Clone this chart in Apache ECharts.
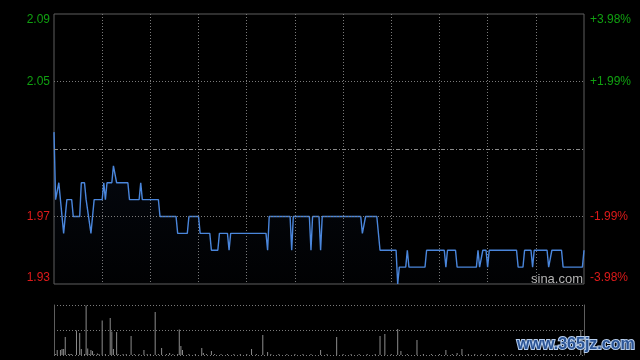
<!DOCTYPE html>
<html>
<head>
<meta charset="utf-8">
<script src="https://cdn.jsdelivr.net/npm/echarts@6/dist/echarts.min.js"></script>
<style>
html,body{margin:0;padding:0;background:#000;}
#chart{width:640px;height:360px;}
</style>
</head>
<body>
<div id="chart"></div>
<script>
// minute index (0..330) and price at each vertex of the intraday line
const lineMinutes = [0,1,2,3,4,6,8,11,12,16,17,19,20,21,23,24,25,30,31,32,33,36,37,38,39,46,47,53,54,55,65,66,76,77,83,84,90,91,97,98,102,103,108,109,110,132,133,134,147,148,149,159,160,161,165,166,167,191,192,193,194,201,203,213,214,215,219,220,221,231,232,243,244,245,250,251,263,264,265,266,267,269,270,271,288,289,292,293,297,298,299,307,308,309,310,316,317,329,330];
const linePrices  = [2.02,1.98,1.98,1.99,1.99,1.96,1.98,1.98,1.97,1.97,1.99,1.99,1.98,1.98,1.96,1.96,1.98,1.98,1.99,1.98,1.99,1.99,2.00,2.00,1.99,1.99,1.98,1.98,1.99,1.98,1.98,1.97,1.97,1.96,1.96,1.97,1.97,1.96,1.96,1.95,1.95,1.96,1.96,1.95,1.96,1.96,1.95,1.97,1.97,1.95,1.97,1.97,1.95,1.97,1.97,1.95,1.97,1.97,1.96,1.96,1.97,1.97,1.95,1.95,1.93,1.94,1.94,1.95,1.94,1.94,1.95,1.95,1.94,1.95,1.95,1.94,1.94,1.95,1.94,1.94,1.95,1.95,1.94,1.95,1.95,1.94,1.94,1.95,1.95,1.94,1.95,1.95,1.94,1.94,1.95,1.95,1.94,1.94,1.95];

// volume bars (percent of panel height) at minute index
const volMinutes = [1,2,4,5,6,7,9,10,11,14,16,17,19,20,21,22,23,24,25,27,28,30,32,35,36,37,39,40,43,45,48,50,53,56,58,60,63,65,67,70,72,74,77,78,79,80,84,88,92,93,95,98,100,104,108,112,116,120,123,126,130,133,135,140,145,150,155,160,166,170,176,180,185,190,195,200,203,206,210,214,216,220,226,230,235,240,244,248,251,254,258,262,266,270,275,280,285,290,295,300,305,310,315,320,328];
const volValues  = [2,10,10,12,12,36,2,2,2,49,44,12,2,99,13,2,10,8,2,3,2,69,2,74,47,12,46,2,2,2,38,2,2,10,2,2,86,2,14,2,4,2,2,51,18,10,2,2,14,4,2,8,2,2,2,2,2,2,12,2,40,6,2,2,2,2,2,2,10,2,36,2,2,2,2,2,38,42,2,52,8,2,30,2,2,2,10,2,4,12,2,2,2,2,2,2,2,2,2,2,2,2,2,2,50];

// axis tick labels
const priceTicks = [1.93, 1.97, 2.01, 2.05, 2.09];
const leftLabels = ['1.93', '1.97', '', '2.05', '2.09'];
const rightLabels = ['-3.98%', '-1.99%', '', '+1.99%', '+3.98%'];
const prevClose = 2.01;

const GREEN = '#10a010', RED = '#dd1a1a', GRID = '#7a7a7a', BORDER = '#5e5e5e';
function tickIndex(v){ let best=0; for(let i=0;i<priceTicks.length;i++){ if(Math.abs(priceTicks[i]-v)<Math.abs(priceTicks[best]-v)) best=i; } return best; }

const chart = echarts.init(document.getElementById('chart'), null, {renderer:'canvas'});
const lineData = lineMinutes.map((m,i)=>[m, linePrices[i]]);
const volData = volMinutes.map((m,i)=>[m, volValues[i]]);

const labelBase = {fontFamily:'Liberation Sans, Arial, sans-serif', fontSize:12};

chart.setOption({
  backgroundColor:'#000',
  animation:false,
  grid:[
    {left:54, top:14, width:530, height:270, show:true, borderColor:BORDER, borderWidth:1, backgroundColor:'transparent'},
    {left:54, top:305, width:530, height:50}
  ],
  xAxis:[
    {gridIndex:0, type:'value', min:0, max:330, interval:30,
     axisLine:{show:false}, axisTick:{show:false}, axisLabel:{show:false},
     splitLine:{show:true, showMinLine:false, showMaxLine:false, lineStyle:{color:GRID, type:[1,2], width:1}}},
    {gridIndex:1, type:'value', min:0, max:330,
     axisLine:{show:false}, axisTick:{show:false}, axisLabel:{show:false}, splitLine:{show:false}}
  ],
  yAxis:[
    {gridIndex:0, type:'value', position:'left', min:1.93, max:2.09, interval:0.04,
     axisLine:{show:false}, axisTick:{show:false}, splitLine:{show:false},
     axisLabel:Object.assign({}, labelBase, {margin:4,
       verticalAlignMinLabel:'bottom', verticalAlignMaxLabel:'top',
       formatter:v=>leftLabels[tickIndex(v)],
       color:v=> v>prevClose ? GREEN : RED})},
    {gridIndex:0, type:'value', position:'right', min:1.93, max:2.09, interval:0.04,
     axisLine:{show:false}, axisTick:{show:false}, splitLine:{show:false},
     axisLabel:Object.assign({}, labelBase, {margin:6,
       verticalAlignMinLabel:'bottom', verticalAlignMaxLabel:'top',
       formatter:v=>rightLabels[tickIndex(v)],
       color:v=> v>prevClose ? GREEN : RED})},
    {gridIndex:1, type:'value', position:'left', min:0, max:100, interval:50,
     axisLine:{show:true, lineStyle:{color:BORDER, width:1}}, axisTick:{show:false}, axisLabel:{show:false},
     splitLine:{show:true, lineStyle:{color:GRID, type:[1,2], width:1}}},
    {gridIndex:1, type:'value', position:'right', min:0, max:100, interval:50,
     axisLine:{show:true, lineStyle:{color:BORDER, width:1}}, axisTick:{show:false}, axisLabel:{show:false},
     splitLine:{show:false}}
  ],
  series:[
    {type:'line', xAxisIndex:0, yAxisIndex:0, data:lineData, showSymbol:false, symbol:'none',
     lineStyle:{color:'#4a86dc', width:1.4},
     areaStyle:{color:new echarts.graphic.LinearGradient(0,0,0,1,[
       {offset:0, color:'rgba(50,90,170,0.14)'},{offset:1, color:'rgba(50,90,170,0.02)'}])},
     markLine:{silent:true, symbol:'none', label:{show:false},
       data:[
         {yAxis:2.05, lineStyle:{color:GRID, type:[1,2], width:1}},
         {yAxis:1.97, lineStyle:{color:GRID, type:[1,2], width:1}},
         {yAxis:prevClose, lineStyle:{color:'#8a8a8a', type:[4,2,1,2], width:1}}
       ]},
     z:3},
    {type:'bar', xAxisIndex:1, yAxisIndex:2, data:volData, barWidth:1,
     itemStyle:{color:'#8c8c8c'}, z:3}
  ],
  graphic:[
    {type:'text', left:531, top:273, z:10, silent:true,
     style:{text:'sina.com', fill:'#b4b4b4', font:'13px "Liberation Sans", Arial, sans-serif'}},
    {type:'text', left:516, top:336, z:10, silent:true,
     style:{text:'www.365jz.com', fill:'#2c5596', stroke:'#b8cfee', lineWidth:2,
            font:'bold 16px "Liberation Sans", Arial, sans-serif'}}
  ]
});
</script>
</body>
</html>
